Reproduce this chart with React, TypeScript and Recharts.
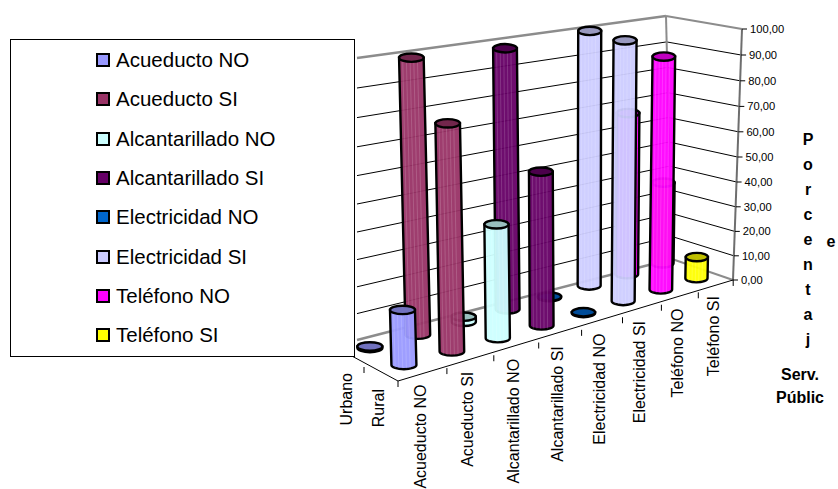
import { Bar, BarChart, ReferenceLine, XAxis, YAxis } from "recharts";

const WIDTH = 838;
const HEIGHT = 489;
const FONT = '"Liberation Sans", Arial, sans-serif';

const seriesNames = [
  "Acueducto NO",
  "Acueducto SI",
  "Alcantarillado NO",
  "Alcantarillado SI",
  "Electricidad NO",
  "Electricidad SI",
  "Teléfono NO",
  "Teléfono SI"
];
const categories = ["Urbano", "Rural"];
const urbano = [0.6, 99.4, 2, 98, 0.2, 99.7, 66, 34.5];
const rural = [20, 81, 42.5, 58, 0.3, 99.7, 91.5, 9];
const colors = ["#9999ff", "#993366", "#ccffff", "#660066", "#0066cc", "#ccccff", "#ff00ff", "#ffff00"];
const valueTicks = [0, 10, 20, 30, 40, 50, 60, 70, 80, 90, 100];
const titleLetters = ["P", "o", "r", "c", "e", "n", "t", "a", "j"];

// the y axis is linear in screen space, the 3d look is a projection on top of it
const AXIS_X = 733;
const PLOT_H = HEIGHT - 1;
const toAxis = (py: number) => (280 - py) / 2.51;

function floorPoint(s: number, c: number) {
  const back = 1 - c;
  return {
    x: 404 + 49 * s - 1.03 * s * s - back * 34,
    y: 365 - 13.8 * s + 0.2 * s * s - back * (17 - 0.3 * s)
  };
}

function topOf(x: number, y: number, value: number) {
  const k = 1.431 - 0.000148 * x + 0.00424 * y;
  const t = value / 100;
  return y - k * (value - 7 * t * (1 - t));
}

function wallY(bottom: number, top: number, t: number, bow: number) {
  return bottom - (bottom - top) * t + bow * t * (1 - t);
}

// back rows first so the near cylinders cover the far ones
const rows = seriesNames
  .flatMap((name, s) =>
    [urbano[s], rural[s]].map((value, c) => {
      const base = floorPoint(s, c);
      return {
        name,
        s,
        c,
        value,
        pos: base.x,
        span: [toAxis(base.y), toAxis(topOf(base.x, base.y, value))]
      };
    })
  )
  .sort((a, b) => b.s - a.s || a.c - b.c);

function Cylinder(props: any) {
  const { x, y, width, height, payload } = props;
  const color = colors[payload.s];
  const rx = 12.5 - 0.2 * payload.s;
  const ry = 4.2;
  const cx = x + width / 2;
  const baseY = y + height;
  const topX = cx + (cx - 575) * 0.00015 * height;
  const body = `M${topX - rx},${y} L${cx - rx},${baseY} A${rx},${ry} 0 0 0 ${cx + rx},${baseY} L${topX + rx},${y} Z`;
  const stripes = [-0.7, -0.4, -0.1, 0.2, 0.5];
  return (
    <g>
      <path d={body} fill={color} fillOpacity={0.95} stroke="#000" strokeWidth={2.4} />
      {height > 12 &&
        stripes.map((f) => (
          <line
            key={f}
            x1={topX + f * rx}
            y1={y + ry}
            x2={cx + f * rx}
            y2={baseY + ry - 1}
            stroke="#fff"
            strokeOpacity={0.16}
          />
        ))}
      <ellipse cx={topX} cy={y} rx={rx} ry={ry} fill={color} stroke="#000" strokeWidth={2.4} />
      <ellipse cx={topX} cy={y} rx={rx} ry={ry} fill="#000" fillOpacity={0.25} />
    </g>
  );
}

function edgeX(i: number) {
  return 398 + 49.9 * i - i * i;
}
function edgeY(i: number) {
  return 381 - 12.95 * i + 0.04 * i * i;
}

const axisLabels = [
  { text: categories[0], x: 346, top: 373, markX: 364, markY: 367 },
  { text: categories[1], x: 378, top: 389, markX: 398, markY: 381 },
  ...seriesNames.map((text, i) => ({
    text,
    x: (edgeX(i) + edgeX(i + 1)) / 2 - 2.5,
    top: (edgeY(i) + edgeY(i + 1)) / 2 + 10,
    markX: edgeX(i + 1),
    markY: edgeY(i + 1)
  }))
];

function DepthTick(props: any) {
  const label = axisLabels[props.index];
  if (!label) return null;
  return (
    <g>
      <line x1={label.markX} y1={label.markY} x2={label.markX} y2={label.markY + 6} stroke="#000" />
      <text
        x={label.x}
        y={label.top}
        transform={`rotate(-90 ${label.x} ${label.top})`}
        textAnchor="end"
        dy="0.35em"
        fontFamily={FONT}
        fontSize={16}
        fill="#000"
      >
        {label.text}
      </text>
    </g>
  );
}

function ValueTick(props: any) {
  const value = props.payload.value;
  const t = value / 100;
  const px = AXIS_X + 9 * t;
  const py = props.y + 10 * t * (1 - t);
  return (
    <g>
      <line x1={px} y1={py} x2={px + 5} y2={py} stroke="#000" />
      <text x={px + 8} y={py} dy="0.35em" fontFamily={FONT} fontSize={11.2} fill="#000">
        {value.toFixed(2).replace(".", ",")}
      </text>
    </g>
  );
}

function Segment({ key, from, to, color = "#000", w = 1 }: any) {
  return (
    <ReferenceLine
      key={key}
      ifOverflow="visible"
      zIndex={-10}
      segment={[
        { x: from[0], y: toAxis(from[1]) },
        { x: to[0], y: toAxis(to[1]) }
      ]}
      stroke={color}
      strokeWidth={w}
    />
  );
}

const wallGray = "#8c8c8c";

function wallLines() {
  const lines: any[] = [];
  valueTicks.forEach((tick) => {
    const t = tick / 100;
    const left = [357, wallY(340, 58, t, 20)];
    const back = [672 - 6 * t, wallY(259, 16, t, 18)];
    const right = [AXIS_X + 9 * t, wallY(280, 29, t, 10)];
    const edge = tick === 0 || tick === 100;
    lines.push({ key: `l${tick}`, from: left, to: back, color: edge ? wallGray : "#000", w: edge ? 2.5 : 1 });
    lines.push({ key: `r${tick}`, from: back, to: right, color: edge ? wallGray : "#000", w: edge ? 2 : 1 });
  });
  lines.push({ key: "corner", from: [672, 259], to: [666, 16], color: wallGray, w: 2 });
  lines.push({ key: "side", from: [AXIS_X, 280], to: [AXIS_X + 9, 29], color: "#6e6e6e", w: 2 });
  lines.push({ key: "front", from: [398, 381], to: [AXIS_X, 280], color: "#000", w: 1 });
  lines.push({ key: "frontLeft", from: [350, 355], to: [398, 381], color: "#000", w: 1 });
  return lines;
}

const titleStyle = { fontFamily: FONT, fontSize: 16, fontWeight: 700, fill: "#000" };

function LegendBox() {
  return (
    <div
      style={{
        position: "absolute",
        left: 10,
        top: 39,
        width: 343,
        height: 316,
        background: "#fff",
        border: "1px solid #000",
        fontFamily: FONT,
        fontSize: 20.5,
        color: "#000"
      }}
    >
      {seriesNames.map((name, i) => (
        <div
          key={name}
          style={{ position: "absolute", left: 85, top: 5 + i * 39.3, height: 30, display: "flex", alignItems: "center", whiteSpace: "nowrap" }}
        >
          <span
            style={{
              display: "inline-block",
              width: 10,
              height: 10,
              marginRight: 6,
              background: colors[i],
              border: "2px solid #000"
            }}
          />
          {name}
        </div>
      ))}
    </div>
  );
}

export default function App() {
  return (
    <div style={{ position: "absolute", left: 0, top: 0, width: WIDTH, height: HEIGHT, background: "#fff" }}>
      <BarChart width={WIDTH} height={HEIGHT} data={rows} margin={{ top: 0, right: 0, bottom: 0, left: 0 }}>
        <XAxis
          dataKey="pos"
          type="number"
          domain={[0, AXIS_X]}
          ticks={axisLabels.map((l) => l.x)}
          interval={0}
          height={1}
          axisLine={false}
          tickLine={false}
          tick={DepthTick}
        />
        <YAxis
          orientation="right"
          type="number"
          width={WIDTH - AXIS_X}
          domain={[toAxis(PLOT_H), toAxis(0)]}
          allowDataOverflow
          ticks={valueTicks}
          interval={0}
          axisLine={false}
          tickLine={false}
          tick={<ValueTick />}
        />
        {wallLines().map((l) => Segment(l))}
        <Bar dataKey="span" barSize={24} shape={<Cylinder />} isAnimationActive={false} />
        {titleLetters.map((letter, i) => (
          <text key={i} x={808} y={139 + i * 25.1} dy="0.35em" textAnchor="middle" {...titleStyle}>
            {letter}
          </text>
        ))}
        <text x={831} y={241} dy="0.35em" textAnchor="middle" {...titleStyle}>
          e
        </text>
        <text x={800} y={374} dy="0.35em" textAnchor="middle" {...titleStyle}>
          Serv.
        </text>
        <text x={800} y={397} dy="0.35em" textAnchor="middle" {...titleStyle}>
          Públic
        </text>
      </BarChart>
      <LegendBox />
    </div>
  );
}
